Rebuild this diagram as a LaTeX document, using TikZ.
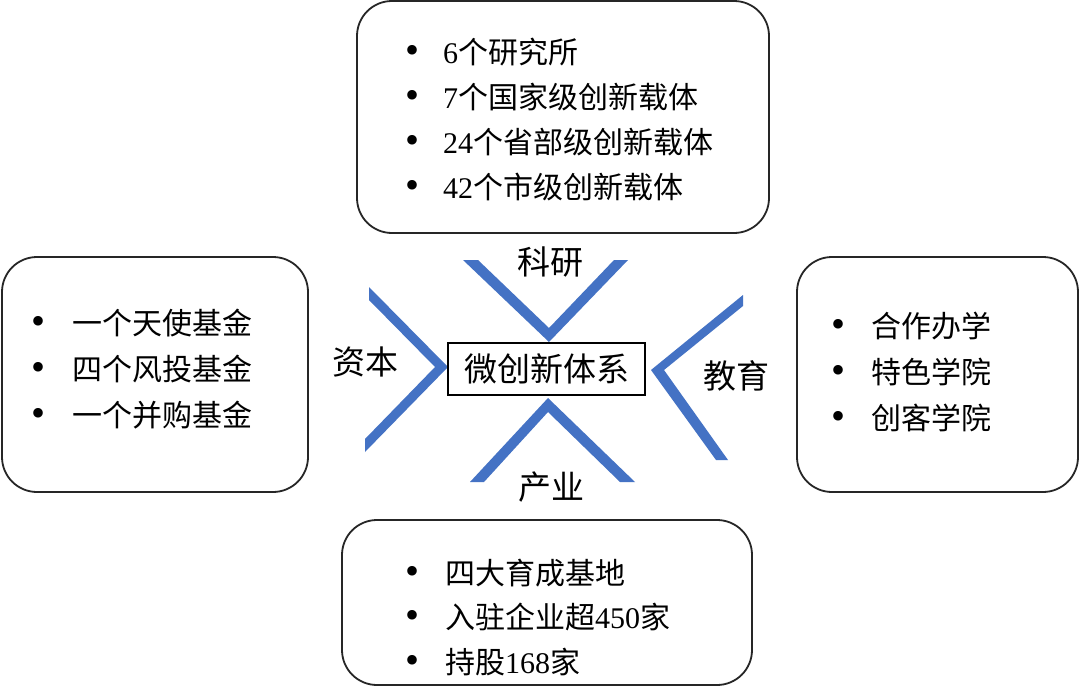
\documentclass[tikz,border=0pt]{standalone}
\usepackage{fontspec}
\setmainfont{Liberation Serif}
\newfontfamily\cjk{Noto Sans CJK SC}
\definecolor{chev}{RGB}{68,114,196}
\begin{document}
\begin{tikzpicture}[x=1pt,y=-1pt,
  panel/.style={draw=black!85, line width=1.8pt, rounded corners=35pt, inner sep=0pt},
  item/.style={anchor=base west, inner sep=0pt, font=\fontsize{30}{30}\selectfont},
  dot/.style={anchor=base, inner sep=0pt, font=\fontsize{40}{40}\selectfont},
  lbl/.style={font=\fontsize{33}{33}\selectfont\cjk, inner sep=0pt},
  chevron/.style={fill=chev, draw=none}]
\useasboundingbox (0,0) rectangle (1080,696);
\fill[white] (0,0) rectangle (1080,696);

% panels
\node[panel, minimum width=412pt, minimum height=232pt] (toppanel) at (563,117) {};
\node[panel, minimum width=306pt, minimum height=235pt] (leftpanel) at (155,374.5) {};
\node[panel, minimum width=281pt, minimum height=235pt] (rightpanel) at (937.5,374.5) {};
\node[panel, minimum width=410pt, minimum height=165pt] (botpanel) at (547,602.5) {};

% chevrons
\fill[chevron] (463,260) -- (549,342) -- (628,260) -- (614,260) -- (549,328) -- (478,260) -- cycle;
\fill[chevron] (470,482) -- (548,398) -- (635,482) -- (620,482) -- (548,412) -- (484,482) -- cycle;
\fill[chevron] (369,287) -- (448,367) -- (365,452) -- (365,439) -- (435,367) -- (369,300) -- cycle;
\fill[chevron] (651,370) -- (743,295) -- (743,306) -- (664,370) -- (728,460) -- (716,460) -- cycle;

% core
\node[draw=black, fill=white, line width=1.8pt, minimum width=197pt, minimum height=52pt, inner sep=0pt,
  font=\fontsize{33}{33}\selectfont\cjk] (core) at (546.5,369) {微创新体系};

% labels
\node[lbl] (keyan) at (550,262) {科研};
\node[lbl] (ziben) at (365,362) {资本};
\node[lbl] (jiaoyu) at (736,376) {教育};
\node[lbl] (chanye) at (551,487) {产业};

% top items
\node[dot] (t1b) at (412,63) {•};
\node[item] (t1) at (443,63) {6{\cjk 个研究所}};
\node[dot] (t2b) at (412,108) {•};
\node[item] (t2) at (443,108) {7{\cjk 个国家级创新载体}};
\node[dot] (t3b) at (412,153) {•};
\node[item] (t3) at (443,153) {24{\cjk 个省部级创新载体}};
\node[dot] (t4b) at (412,198) {•};
\node[item] (t4) at (443,198) {42{\cjk 个市级创新载体}};

% left items
\node[dot] (l1b) at (39,334) {•};
\node[item] (l1) at (72,334) {\cjk 一个天使基金};
\node[dot] (l2b) at (39,380) {•};
\node[item] (l2) at (72,380) {\cjk 四个风投基金};
\node[dot] (l3b) at (39,426) {•};
\node[item] (l3) at (72,426) {\cjk 一个并购基金};

% right items
\node[dot] (r1b) at (838,337) {•};
\node[item] (r1) at (871,337) {\cjk 合作办学};
\node[dot] (r2b) at (838,383) {•};
\node[item] (r2) at (871,383) {\cjk 特色学院};
\node[dot] (r3b) at (838,429) {•};
\node[item] (r3) at (871,429) {\cjk 创客学院};

% bottom items
\node[dot] (b1b) at (412,584) {•};
\node[item] (b1) at (445,584) {\cjk 四大育成基地};
\node[dot] (b2b) at (412,628) {•};
\node[item] (b2) at (445,628) {{\cjk 入驻企业超}450{\cjk 家}};
\node[dot] (b3b) at (412,673) {•};
\node[item] (b3) at (445,673) {{\cjk 持股}168{\cjk 家}};
\end{tikzpicture}
\end{document}
